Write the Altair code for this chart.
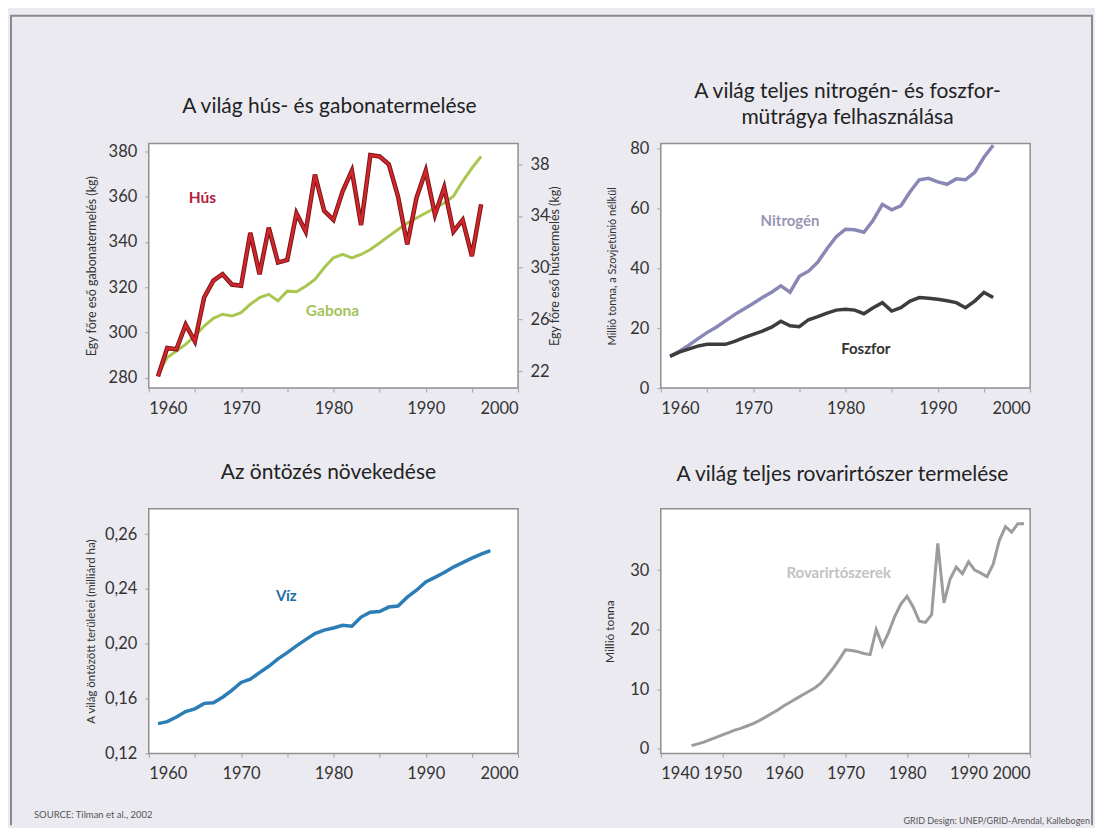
import altair as alt
import pandas as pd

# ------------------------------------------------------------------ data
food_years = list(range(1961, 1997))
hus = [21.6, 23.8, 23.7, 25.6, 24.3, 27.7, 29.0, 29.5, 28.7, 28.6,
       32.7, 29.5, 33.1, 30.4, 30.6, 34.2, 32.8, 37.2, 34.4, 33.7,
       35.9, 37.5, 33.3, 38.7, 38.6, 38.0, 35.5, 31.8, 35.4, 37.5,
       34.1, 36.2, 32.8, 33.7, 30.9, 34.9]
gabona = [281.6, 289.0, 291.9, 294.8, 298.5, 302.9, 306.3, 308.1, 307.3, 308.8,
          312.5, 315.4, 316.9, 314.0, 318.3, 318.0, 320.5, 323.5, 328.6, 333.0,
          334.5, 333.0, 334.5, 336.7, 339.6, 342.6, 345.5, 348.4, 350.6, 352.8,
          355.0, 357.2, 360.2, 366.8, 372.6, 377.8]

fert_years = list(range(1961, 1997))
nitrogen = [10.6, 12.3, 14.2, 16.4, 18.5, 20.3, 22.4, 24.5, 26.4, 28.2,
            30.2, 32.0, 34.1, 32.0, 37.3, 39.0, 42.0, 46.5, 50.5, 53.0,
            52.8, 52.0, 56.0, 61.3, 59.5, 60.8, 65.5, 69.5, 70.0, 68.8,
            68.0, 69.8, 69.5, 72.0, 77.0, 81.0]
foszfor = [10.6, 12.0, 13.0, 14.0, 14.6, 14.6, 14.6, 15.6, 16.8, 17.9,
           19.0, 20.3, 22.3, 20.8, 20.5, 22.8, 23.8, 25.0, 26.0, 26.3,
           26.0, 24.8, 26.8, 28.5, 25.7, 26.8, 29.0, 30.2, 30.0, 29.6,
           29.1, 28.5, 26.8, 29.0, 31.9, 30.2]

viz_years = list(range(1961, 1998))
viz = [0.1417, 0.1432, 0.1465, 0.1505, 0.1525, 0.1565, 0.1570, 0.1610, 0.1660, 0.1718,
       0.1742, 0.1790, 0.1836, 0.1890, 0.1935, 0.1985, 0.2030, 0.2075, 0.2100, 0.2115,
       0.2135, 0.2128, 0.2195, 0.2230, 0.2235, 0.2268, 0.2275, 0.2340, 0.2391, 0.2452,
       0.2485, 0.2520, 0.2560, 0.2592, 0.2625, 0.2655, 0.2680]

pest_years = list(range(1945, 2000))
rovar = [0.5, 0.8, 1.1, 1.5, 1.9, 2.3, 2.7, 3.1, 3.4, 3.8,
         4.2, 4.7, 5.3, 5.9, 6.5, 7.2, 7.8, 8.4, 9.0, 9.6,
         10.2, 11.0, 12.2, 13.5, 15.0, 16.6, 16.5, 16.3, 16.0, 15.8,
         20.0, 17.3, 19.5, 22.2, 24.3, 25.6, 23.8, 21.4, 21.2, 22.5,
         34.5, 24.5, 28.5, 30.5, 29.4, 31.4, 30.0, 29.5, 28.9, 31.0,
         35.0, 37.3, 36.4, 37.8, 37.8]

gab_ticks = [280, 300, 320, 340, 360, 380]
hus_ticks = [22, 26, 30, 34, 38]
fert_ticks = [0, 20, 40, 60, 80]
viz_ticks = [0.12, 0.16, 0.20, 0.24, 0.28]
pest_ticks = [0, 10, 20, 30]

titles = {
    "tl": "A világ hús- és gabonatermelése",
    "tr1": "A világ teljes nitrogén- és foszfor-",
    "tr2": "mütrágya felhasználása",
    "bl": "Az öntözés növekedése",
    "br": "A világ teljes rovarirtószer termelése",
}
source_txt = "SOURCE: Tilman et al., 2002"
credit_txt = "GRID Design: UNEP/GRID-Arendal, Kallebogen"

# ------------------------------------------------------------------ style
FONT = "Lato"
W, H = 370, 245
BG = "#ebeaf1"
FRAME = "#8a8a8a"
TFS = 21      # panel title font size
LFS = 16.5    # tick label font size


def txt(s, x, y, size, color, weight="normal", align="center", baseline="middle"):
    return alt.Chart(pd.DataFrame({"t": [s]})).mark_text(
        font=FONT, fontSize=size, color=color, fontWeight=weight,
        align=align, baseline=baseline
    ).encode(text="t:N", x=alt.value(x), y=alt.value(y))


def vrule(x, y, y2):
    return alt.Chart(pd.DataFrame({"k": [0]})).mark_rule(
        color=FRAME, strokeWidth=2).encode(x=alt.value(x), y=alt.value(y), y2=alt.value(y2))


def hrule(x, x2, y):
    return alt.Chart(pd.DataFrame({"k": [0]})).mark_rule(
        color=FRAME, strokeWidth=2).encode(x=alt.value(x), x2=alt.value(x2), y=alt.value(y))


def xenc(lo, tick_step, label_step):
    return alt.X(
        "ev:Q",
        scale=alt.Scale(domain=[lo, 2000], nice=False, zero=False),
        axis=alt.Axis(values=list(range(lo, 2001, tick_step)), format="d",
                      labelExpr=f"datum.value % {label_step} == 0 ? datum.label : ''",
                      title=None),
    )


# ------------------------------------------------------------------ top left
df_food = pd.DataFrame({"ev": food_years, "hus": hus, "gabona": gabona})
x_tl = xenc(1960, 5, 10)
y_gab = alt.Y("gabona:Q", scale=alt.Scale(domain=[275.5, 383.5], nice=False, zero=False),
              axis=alt.Axis(values=gab_ticks, orient="left",
                            title="Egy főre eső gabonatermelés (kg)",
                            titleFontSize=12.5, titlePadding=10))
y_hus = alt.Y("hus:Q", scale=alt.Scale(domain=[20.7, 39.6], nice=False, zero=False),
              axis=alt.Axis(values=hus_ticks, orient="right",
                            title="Egy főre eső hústermelés (kg)",
                            titleAngle=270, titleFontSize=12.5, titlePadding=12))

gab_line = alt.Chart(df_food).mark_line(color="#a9c651", strokeWidth=3).encode(x=x_tl, y=y_gab)
gab_lab = alt.Chart(pd.DataFrame({"ev": [1979.9], "gabona": [309.5], "t": ["Gabona"]})).mark_text(
    font=FONT, fontSize=15.5, color="#a3c45a", fontWeight="bold").encode(x=x_tl, y=y_gab, text="t:N")
hus_under = alt.Chart(df_food).mark_line(color="#7a1616", strokeWidth=4.5).encode(x=x_tl, y=y_hus)
hus_line = alt.Chart(df_food).mark_line(color="#d2262c", strokeWidth=2.5).encode(x=x_tl, y=y_hus)
hus_lab = alt.Chart(pd.DataFrame({"ev": [1965.8], "hus": [35.4], "t": ["Hús"]})).mark_text(
    font=FONT, fontSize=15.5, color="#b51e3c", fontWeight="bold").encode(x=x_tl, y=y_hus, text="t:N")

tl = alt.layer(
    alt.layer(gab_line, gab_lab),
    alt.layer(hus_under, hus_line, hus_lab),
    txt(titles["tl"], 181, -37, TFS, "#222"),
    vrule(-138, -128, 683),
    hrule(-139, 946, -128),
).resolve_scale(y="independent").properties(width=W, height=H)

# ------------------------------------------------------------------ top right
df_fert = pd.concat([
    pd.DataFrame({"ev": fert_years, "v": nitrogen, "s": "Nitrogén"}),
    pd.DataFrame({"ev": fert_years, "v": foszfor, "s": "Foszfor"}),
])
x_tr = xenc(1960, 5, 10)
y_tr = alt.Y("v:Q", scale=alt.Scale(domain=[0, 81.6], nice=False),
             axis=alt.Axis(values=fert_ticks, title="Millió tonna, a Szovjetúnió nélkül",
                           titleFontSize=11, titlePadding=12))
fert_lines = alt.Chart(df_fert).mark_line(strokeWidth=3.5).encode(
    x=x_tr, y=y_tr,
    color=alt.Color("s:N", scale=alt.Scale(domain=["Nitrogén", "Foszfor"],
                                           range=["#8987b6", "#3d3d3d"]), legend=None),
)
n_lab = alt.Chart(pd.DataFrame({"ev": [1974.0], "v": [55.9], "t": ["Nitrogén"]})).mark_text(
    font=FONT, fontSize=15, color="#9896b4", fontWeight="bold").encode(x=x_tr, y=y_tr, text="t:N")
p_lab = alt.Chart(pd.DataFrame({"ev": [1982.2], "v": [13.0], "t": ["Foszfor"]})).mark_text(
    font=FONT, fontSize=15, color="#333333", fontWeight="bold").encode(x=x_tr, y=y_tr, text="t:N")

tr = alt.layer(
    fert_lines, n_lab, p_lab,
    txt(titles["tr1"], 187, -51.5, TFS, "#222"),
    txt(titles["tr2"], 187, -26, TFS, "#222"),
    vrule(432, -128, 683),
).properties(width=W, height=H)

# ------------------------------------------------------------------ bottom left
df_viz = pd.DataFrame({"ev": viz_years, "viz": viz})
x_bl = xenc(1960, 5, 10)
y_bl = alt.Y("viz:Q", scale=alt.Scale(domain=[0.12, 0.2985], nice=False, zero=False),
             axis=alt.Axis(values=viz_ticks,
                           labelExpr="datum.value > 0.27 ? '0,26' : replace(format(datum.value, '.2f'), '.', ',')",
                           title="A világ öntözött területei (milliárd ha)",
                           titleFontSize=11.5, titlePadding=8))
viz_line = alt.Chart(df_viz).mark_line(color="#2c7db5", strokeWidth=3.5).encode(x=x_bl, y=y_bl)
viz_lab = alt.Chart(pd.DataFrame({"ev": [1974.9], "viz": [0.2346], "t": ["Víz"]})).mark_text(
    font=FONT, fontSize=15, color="#1f6ea5", fontWeight="bold").encode(x=x_bl, y=y_bl, text="t:N")

bl = alt.layer(
    viz_line, viz_lab,
    txt(titles["bl"], 180, -36, TFS, "#222"),
    txt(source_txt, -115, 307, 9.5, "#555", align="left"),
).properties(width=W, height=H)

# ------------------------------------------------------------------ bottom right
df_pest = pd.DataFrame({"ev": pest_years, "r": rovar})
x_br = xenc(1940, 10, 10)
y_br = alt.Y("r:Q", scale=alt.Scale(domain=[-0.8, 40.3], nice=False, zero=False),
             axis=alt.Axis(values=pest_ticks, title="Millió tonna",
                           titleFontSize=12, titlePadding=13))
pest_line = alt.Chart(df_pest).mark_line(color="#9c9c9c", strokeWidth=3).encode(x=x_br, y=y_br)
pest_lab = alt.Chart(pd.DataFrame({"ev": [1968.9], "r": [29.5], "t": ["Rovarirtószerek"]})).mark_text(
    font=FONT, fontSize=15, color="#c2c2c2", fontWeight="bold").encode(x=x_br, y=y_br, text="t:N")

br = alt.layer(
    pest_line, pest_lab,
    txt(titles["br"], 182, -34, TFS, "#222"),
    txt(credit_txt, 430, 313, 9, "#555", align="right"),
).properties(width=W, height=H)

# ------------------------------------------------------------------ compose
chart = alt.concat(
    tl, tr, bl, br, columns=2, bounds="flush",
    spacing={"row": 121, "column": 143},
).properties(
    background=BG,
    padding={"left": 0, "top": 5, "right": 0, "bottom": 0},
).configure_view(
    stroke="#909090", strokeWidth=1.5, fill="white"
).configure_axis(
    labelFont=FONT, labelFontSize=LFS, labelColor="#333333",
    titleFont=FONT, titleColor="#333333", titleFontWeight="normal",
    domain=False, grid=False, tickColor="#a0a0a0", tickSize=4,
).configure_axisX(labelPadding=8).configure_axisY(labelPadding=8)

chart.save("out.html", embed_options={"renderer": "svg", "actions": False})
